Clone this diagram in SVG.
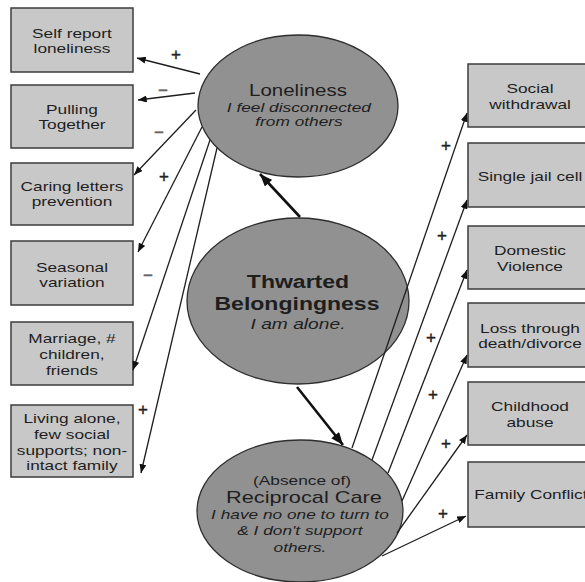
<svg xmlns="http://www.w3.org/2000/svg" width="585" height="582" viewBox="0 0 585 582">
  <defs>
    <style>
      .box { fill: #c8c8c8; stroke: #3c3c3c; stroke-width: 1.5; }
      .oval { fill: #919191; stroke: #2e2e2e; stroke-width: 1.3; }
      text { font-family: "Liberation Sans", Arial, sans-serif; fill: #1e1e1e; text-anchor: middle;
             transform-box: fill-box; transform-origin: center; transform: scaleX(1.28); }
      .t { font-size: 13.5px; }
      .head { font-size: 16px; }
      .sub { font-size: 13.5px; font-style: italic; }
      .big { font-size: 18px; font-weight: bold; }
      text.sign { font-size: 17px; fill: #222; stroke: #222; stroke-width: 0.4; transform: none; }
      text.minus { fill: #666; stroke: #666; }
      .thin { stroke: #1e1e1e; stroke-width: 1.3; fill: none; marker-end: url(#tip); }
      .thick { stroke: #111; stroke-width: 2.6; fill: none; marker-end: url(#tipBig); }
    </style>
    <marker id="tip" viewBox="0 0 10 8" refX="10" refY="4" markerWidth="9" markerHeight="7" markerUnits="userSpaceOnUse" orient="auto">
      <path d="M0,0 L10,4 L0,8 z" fill="#111"/>
    </marker>
    <marker id="tipBig" viewBox="0 0 10 8" refX="10" refY="4" markerWidth="13" markerHeight="10" markerUnits="userSpaceOnUse" orient="auto">
      <path d="M0,0 L10,4 L0,8 z" fill="#111"/>
    </marker>
  </defs>

  <rect width="585" height="582" fill="#ffffff"/>

  <!-- left column -->
  <g id="self-report">
    <rect class="box" x="11" y="8" width="122" height="64"/>
    <text class="t" x="72" y="38">Self report</text>
    <text class="t" x="72" y="53">loneliness</text>
  </g>
  <g id="pulling-together">
    <rect class="box" x="11" y="85" width="122" height="63"/>
    <text class="t" x="72" y="114">Pulling</text>
    <text class="t" x="72" y="129">Together</text>
  </g>
  <g id="caring-letters">
    <rect class="box" x="11" y="163" width="122" height="62"/>
    <text class="t" x="72" y="191">Caring letters</text>
    <text class="t" x="72" y="206">prevention</text>
  </g>
  <g id="seasonal">
    <rect class="box" x="11" y="241" width="122" height="64"/>
    <text class="t" x="72" y="272">Seasonal</text>
    <text class="t" x="72" y="287">variation</text>
  </g>
  <g id="marriage">
    <rect class="box" x="11" y="322" width="122" height="63"/>
    <text class="t" x="72" y="343">Marriage, #</text>
    <text class="t" x="72" y="359">children,</text>
    <text class="t" x="72" y="375">friends</text>
  </g>
  <g id="living-alone">
    <rect class="box" x="11" y="405" width="122" height="72"/>
    <text class="t" x="72" y="423">Living alone,</text>
    <text class="t" x="72" y="439">few social</text>
    <text class="t" x="72" y="455">supports; non-</text>
    <text class="t" x="72" y="470">intact family</text>
  </g>

  <!-- right column (boxes run past the right edge) -->
  <g id="social-withdrawal">
    <rect class="box" x="468" y="64" width="124" height="63"/>
    <text class="t" x="530" y="93">Social</text>
    <text class="t" x="530" y="109">withdrawal</text>
  </g>
  <g id="jail-cell">
    <rect class="box" x="468" y="143" width="124" height="64"/>
    <text class="t" x="530" y="181">Single jail cell</text>
  </g>
  <g id="domestic-violence">
    <rect class="box" x="468" y="226" width="124" height="63"/>
    <text class="t" x="530" y="255">Domestic</text>
    <text class="t" x="530" y="271">Violence</text>
  </g>
  <g id="loss">
    <rect class="box" x="468" y="303" width="124" height="64"/>
    <text class="t" x="530" y="333">Loss through</text>
    <text class="t" x="530" y="348">death/divorce</text>
  </g>
  <g id="childhood-abuse">
    <rect class="box" x="468" y="382" width="124" height="63"/>
    <text class="t" x="530" y="411">Childhood</text>
    <text class="t" x="530" y="427">abuse</text>
  </g>
  <g id="family-conflict">
    <rect class="box" x="468" y="462" width="124" height="65"/>
    <text class="t" x="531" y="499">Family Conflict</text>
  </g>

  <!-- central constructs -->
  <g id="loneliness">
    <ellipse class="oval" cx="298" cy="106" rx="100" ry="71"/>
    <text class="head" x="298" y="96">Loneliness</text>
    <text class="sub" x="299" y="112">I feel disconnected</text>
    <text class="sub" x="299" y="126">from others</text>
  </g>
  <g id="thwarted-belongingness">
    <ellipse class="oval" cx="298" cy="301" rx="111" ry="83"/>
    <text class="big" x="298" y="288">Thwarted</text>
    <text class="big" x="297" y="310">Belongingness</text>
    <text class="sub" x="298" y="329" style="font-size:15px">I am alone.</text>
  </g>
  <g id="reciprocal-care">
    <ellipse class="oval" cx="300" cy="511" rx="103" ry="71"/>
    <text class="t" x="302" y="485">(Absence of)</text>
    <text class="head" x="304" y="503" style="font-size:17px">Reciprocal Care</text>
    <text class="sub" x="300" y="519">I have no one to turn to</text>
    <text class="sub" x="300" y="535">&amp; I don't support</text>
    <text class="sub" x="300" y="552">others.</text>
  </g>

  <!-- connectors -->
  <g id="connectors">
    <path class="thick" d="M300,217 L260,174"/>
    <path class="thick" d="M297,387 L343,445"/>

    <path class="thin" d="M200,74 L137,58"/>
    <path class="thin" d="M195,93 L138,100"/>
    <path class="thin" d="M196,110 L134,175"/>
    <path class="thin" d="M202,127 L138,252"/>
    <path class="thin" d="M210,140 L133,370"/>
    <path class="thin" d="M217,148 L141,473"/>

    <path class="thin" d="M352,448 L467,113"/>
    <path class="thin" d="M372,460 L467,200"/>
    <path class="thin" d="M388,473 L467,270"/>
    <path class="thin" d="M402,501 L467,355"/>
    <path class="thin" d="M397,533 L467,435"/>
    <path class="thin" d="M382,556 L466,516"/>

    <text class="sign" x="176" y="60">+</text>
    <text class="sign minus" x="163" y="96">−</text>
    <text class="sign minus" x="159" y="138">−</text>
    <text class="sign" x="164" y="182">+</text>
    <text class="sign minus" x="148" y="281">−</text>
    <text class="sign" x="143" y="415">+</text>

    <text class="sign" x="446" y="151">+</text>
    <text class="sign" x="442" y="241">+</text>
    <text class="sign" x="431" y="343">+</text>
    <text class="sign" x="433" y="400">+</text>
    <text class="sign" x="446" y="449">+</text>
    <text class="sign" x="443" y="519">+</text>
  </g>
</svg>
